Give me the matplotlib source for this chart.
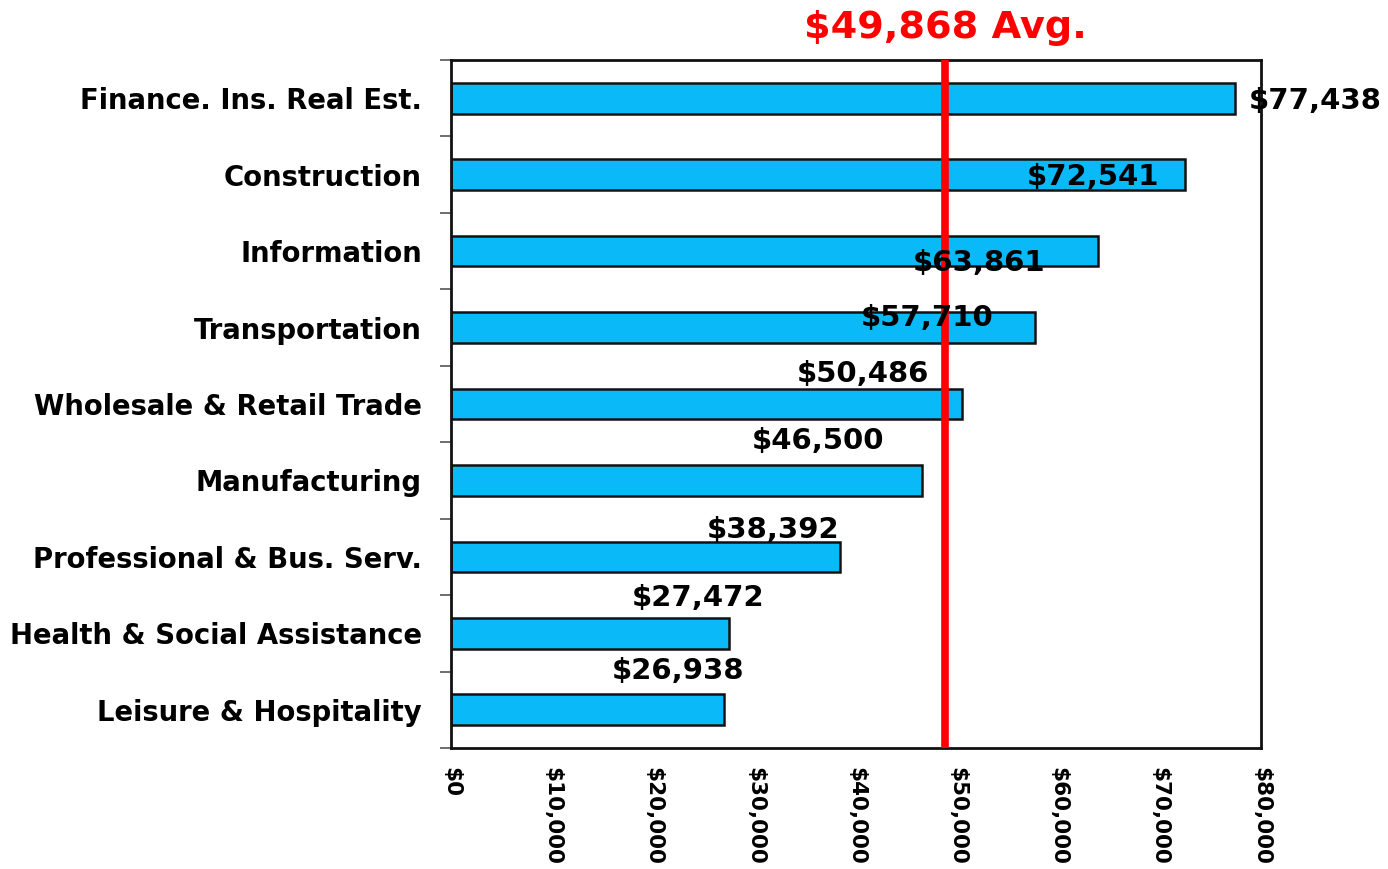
import matplotlib
matplotlib.use('Agg')
import matplotlib.pyplot as plt
import matplotlib.transforms as mtransforms
from matplotlib.ticker import FuncFormatter

# data
industries = ["Finance. Ins. Real Est.", "Construction", "Information",
              "Transportation", "Wholesale & Retail Trade", "Manufacturing",
              "Professional & Bus. Serv.", "Health & Social Assistance",
              "Leisure & Hospitality"]
wages = [77438, 72541, 63861, 57710, 50486, 46500, 38392, 27472, 26938]
average = 49868
xticks = [0, 10000, 20000, 30000, 40000, 50000, 60000, 70000, 80000]

# the slide draws the avg line a bit left of the true value
avg_line_x = 48800

# where the value labels sit (data coords), as in the original slide
label_x = [78815, 63400, 52150, 47000, 40690, 36250, 31800, 24400, 22420]
label_y = [0.03, 1.03, 2.15, 2.88, 3.61, 4.48, 5.65, 6.54, 7.49]
label_ha = ['left'] + ['center'] * 8

plt.rcParams['font.family'] = 'DejaVu Sans'
plt.rcParams['font.weight'] = 'bold'

fig = plt.figure(figsize=(13.88, 8.69), dpi=100)
ax = fig.add_axes([451 / 1388, 1 - 748 / 869, 810 / 1388, 688 / 869])

ypos = list(range(len(industries)))
ax.barh(ypos, wages, height=0.4, color='#0ABAF8', edgecolor='#111111',
        linewidth=1.8, zorder=2)
ax.axvline(avg_line_x, color='#FF0000', linewidth=5.5, zorder=3)

for x, y, ha, v in zip(label_x, label_y, label_ha, wages):
    ax.text(x, y, "${:,}".format(v), ha=ha, va='center', fontsize=21,
            fontweight='bold', color='black', zorder=4)

trans = mtransforms.blended_transform_factory(ax.transData, ax.transAxes)
ax.text(avg_line_x, 1.047, "${:,} Avg.".format(average), ha='center',
        va='center', fontsize=27.5, fontweight='bold', color='#FF0000',
        transform=trans, clip_on=False)

ax.set_xlim(0, 80000)
ax.set_ylim(len(industries) - 0.5, -0.5)

ax.set_yticks(ypos)
ax.set_yticklabels(industries, fontsize=19.8, fontweight='bold')
ax.set_yticks([i - 0.5 for i in range(len(industries) + 1)], minor=True)
ax.tick_params(axis='y', which='major', length=0, pad=21)
ax.tick_params(axis='y', which='minor', length=8, width=1.2, color='#555555')

ax.set_xticks(xticks)
ax.xaxis.set_major_formatter(FuncFormatter(lambda v, p: "${:,.0f}".format(v)))
for lbl in ax.get_xticklabels():
    lbl.set_rotation(270)
    lbl.set_fontsize(15.5)
    lbl.set_fontweight('bold')
    lbl.set_va('top')
    lbl.set_ha('center')
ax.tick_params(axis='x', length=0, pad=14)

for s in ax.spines.values():
    s.set_linewidth(2)
    s.set_color('#111111')

fig.savefig('out.png', dpi=100)
